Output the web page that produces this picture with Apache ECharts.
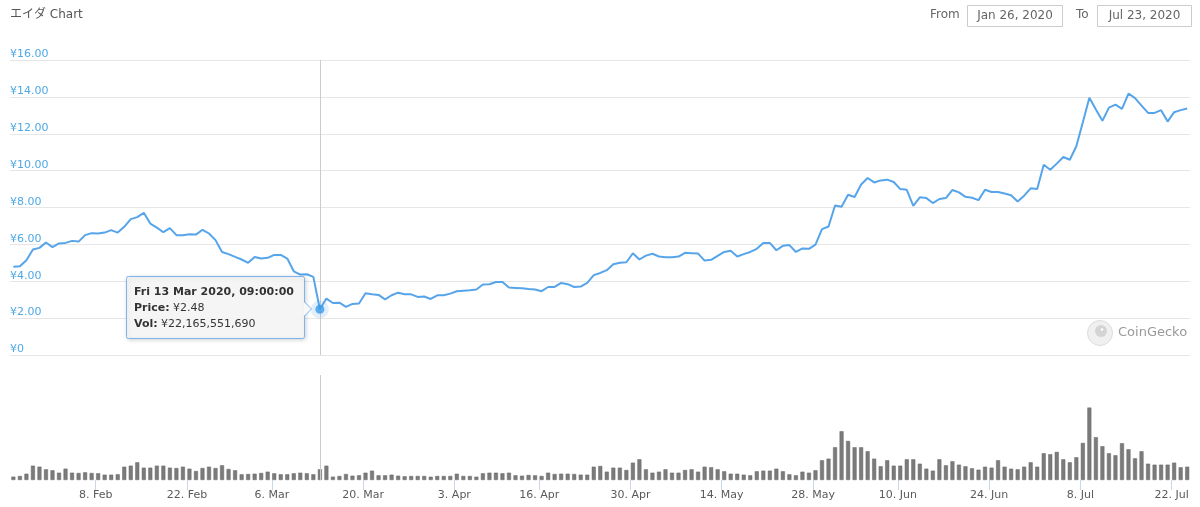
<!DOCTYPE html>
<html>
<head>
<meta charset="utf-8">
<script src="https://cdn.jsdelivr.net/npm/echarts@6/dist/echarts.min.js"></script>
<style>
html,body{margin:0;padding:0;background:#fff;}
#chart{width:1200px;height:507px;}
</style>
</head>
<body>
<div id="chart"></div>
<script>
// ---- data (daily, JST 09:00) ----
const startDate = '2020-01-26T09:00:00Z';
const prices = [
 4.78,4.81,5.14,5.72,5.81,6.10,5.85,6.05,6.08,6.19,
 6.15,6.50,6.61,6.59,6.64,6.77,6.64,6.95,7.37,7.48,
 7.71,7.13,6.91,6.66,6.88,6.50,6.50,6.55,6.53,6.79,
 6.59,6.23,5.59,5.47,5.32,5.18,5.00,5.32,5.23,5.27,
 5.43,5.43,5.23,4.54,4.36,4.38,4.24,2.48,3.06,2.82,
 2.84,2.61,2.77,2.79,3.35,3.29,3.26,3.02,3.24,3.38,
 3.29,3.29,3.15,3.17,3.04,3.24,3.24,3.33,3.46,3.49,
 3.51,3.55,3.82,3.84,3.96,3.96,3.66,3.64,3.62,3.58,
 3.55,3.46,3.69,3.69,3.91,3.84,3.69,3.71,3.91,4.33,
 4.45,4.60,4.92,5.00,5.03,5.52,5.18,5.39,5.49,5.34,
 5.30,5.30,5.34,5.54,5.52,5.50,5.12,5.16,5.38,5.59,
 5.65,5.34,5.47,5.59,5.76,6.07,6.08,5.68,5.92,5.96,
 5.59,5.78,5.76,5.99,6.83,6.97,8.11,8.04,8.69,8.57,
 9.25,9.60,9.36,9.47,9.51,9.38,9.00,8.96,8.09,8.55,
 8.51,8.24,8.46,8.51,8.95,8.82,8.58,8.53,8.40,8.96,
 8.84,8.84,8.76,8.66,8.33,8.64,9.04,9.00,10.32,10.05,
 10.38,10.74,10.59,11.32,12.62,13.95,13.31,12.70,13.42,13.58,
 13.35,14.18,13.93,13.53,13.13,13.13,13.28,12.66,13.17,13.28,
 13.37
];
// volume in billions of JPY
const volumes = [
 6.9,8.3,13.0,29.6,27.5,22.1,20.1,15.1,23.4,15.1,
 14.5,15.9,14.5,13.9,11.0,11.0,11.8,27.5,29.6,36.6,
 25.5,25.5,29.6,29.6,25.5,24.8,27.5,23.4,18.6,24.8,
 27.5,24.8,30.4,22.8,20.1,11.8,12.4,13.0,14.5,17.2,
 13.9,11.8,11.8,13.9,15.1,13.9,11.8,22.17,29.6,6.9,
 8.3,12.4,8.9,9.7,15.1,19.3,9.7,9.7,11.0,8.9,
 7.7,8.3,8.3,8.3,6.8,8.3,8.3,8.3,13.0,8.3,
 8.3,6.8,13.9,15.1,15.1,13.9,15.1,9.7,8.9,10.4,
 9.7,8.3,15.1,12.4,13.0,13.0,12.4,11.0,11.0,27.5,
 29.0,17.2,25.5,25.5,20.7,35.8,42.8,22.1,15.1,17.2,
 22.1,15.1,15.1,20.7,22.1,17.2,27.5,26.3,22.1,18.0,
 13.0,13.0,11.0,9.7,18.0,19.3,19.3,23.4,18.0,11.8,
 9.7,17.2,15.1,20.1,40.8,44.1,67.7,100.8,80.7,67.7,
 67.7,59.4,44.1,28.4,40.8,29.6,29.6,42.8,42.8,33.7,
 23.4,19.3,42.8,30.4,38.7,31.7,28.4,24.2,21.3,27.5,
 25.5,40.8,27.5,23.4,22.1,27.5,36.6,27.5,55.3,53.2,
 58.0,42.8,36.6,47.0,76.6,149.7,88.4,69.8,55.3,51.1,
 76.0,63.5,44.9,59.4,33.7,31.7,31.7,31.7,35.8,26.3,
 27.5
];
const tickDates = ['2020-02-08','2020-02-22','2020-03-06','2020-03-20','2020-04-03','2020-04-16',
 '2020-04-30','2020-05-14','2020-05-28','2020-06-10','2020-06-24','2020-07-08','2020-07-22'];
const priceTicks = [0,2,4,6,8,10,12,14,16];
const highlightIndex = 47;
const highlightVolume = 22165551690;
const titleText = 'エイダ Chart';
const fromText = 'Jan 26, 2020';
const toText = 'Jul 23, 2020';

// ---- build ----
const DAY = 86400000;
const t0 = Date.parse(startDate);
const dates = prices.map((_, i) => t0 + i * DAY);
const priceData = prices.map((p, i) => [dates[i], p]);
const volData = volumes.map((v, i) => [dates[i], v]);
const tickValues = tickDates.map(d => Date.parse(d + 'T00:00:00Z'));
const xMin = Date.parse('2020-01-25T20:35:00Z');
const xMax = Date.parse('2020-07-24T19:20:00Z');
const MON = ['Jan','Feb','Mar','Apr','May','Jun','Jul','Aug','Sep','Oct','Nov','Dec'];
const DOW = ['Sun','Mon','Tue','Wed','Thu','Fri','Sat'];
const pad = n => String(n).padStart(2, '0');
function fmtTip(t) {
  const d = new Date(t);
  return DOW[d.getUTCDay()] + ' ' + d.getUTCDate() + ' ' + MON[d.getUTCMonth()] + ' ' + d.getUTCFullYear() +
    ', ' + pad(d.getUTCHours()) + ':' + pad(d.getUTCMinutes()) + ':' + pad(d.getUTCSeconds());
}
const FONT = "'DejaVu Sans', sans-serif";
const lineColor = '#56a4ea';
const hT = dates[highlightIndex], hP = prices[highlightIndex];
const volStr = String(highlightVolume).replace(/\B(?=(\d{3})+(?!\d))/g, ',');

const chart = echarts.init(document.getElementById('chart'), null, {renderer: 'canvas'});
chart.setOption({
  animation: false,
  backgroundColor: '#fff',
  textStyle: {fontFamily: FONT},
  grid: [
    {left: 10, right: 10, top: 60, bottom: 152},
    {left: 10, right: 10, top: 375, bottom: 27}
  ],
  xAxis: [
    {type: 'value', gridIndex: 0, min: xMin, max: xMax, show: false, splitLine: {show: false}},
    {type: 'value', gridIndex: 1, min: xMin, max: xMax,
     axisLine: {show: false},
     splitLine: {show: false},
     axisTick: {show: true, customValues: tickValues, length: 10, lineStyle: {color: '#ccd6eb'}},
     axisLabel: {customValues: tickValues, margin: 10, color: '#5a5a5a', fontSize: 11, fontFamily: FONT,
       formatter: v => { const d = new Date(v); return d.getUTCDate() + '. ' + MON[d.getUTCMonth()]; }}
    }
  ],
  yAxis: [
    {type: 'value', gridIndex: 0, min: priceTicks[0], max: priceTicks[priceTicks.length - 1], interval: 2,
     axisLine: {show: false}, axisTick: {show: false},
     splitLine: {lineStyle: {color: '#e6e6e6', width: 1}},
     axisLabel: {inside: true, align: 'left', verticalAlign: 'bottom', margin: 0, padding: [0, 0, 0, 0],
       color: '#4fa8e6', fontSize: 11, fontFamily: FONT,
       formatter: v => v === 0 ? '¥0' : '¥' + v.toFixed(2)}
    },
    {type: 'value', gridIndex: 1, min: 0, max: 217, show: false, splitLine: {show: false}}
  ],
  series: [
    {type: 'line', xAxisIndex: 0, yAxisIndex: 0, data: priceData, showSymbol: false, symbol: 'none',
     lineStyle: {color: lineColor, width: 2}, z: 3,
     markLine: {silent: true, symbol: 'none', label: {show: false},
       lineStyle: {color: '#cccccc', width: 1, type: 'solid'}, data: [{xAxis: hT}], z: 1}
    },
    {type: 'bar', xAxisIndex: 1, yAxisIndex: 1, data: volData, barWidth: 4,
     itemStyle: {color: '#7b7b7b', borderColor: '#666', borderWidth: 0.5},
     markLine: {silent: true, symbol: 'none', label: {show: false},
       lineStyle: {color: '#cccccc', width: 1, type: 'solid'}, data: [{xAxis: hT}]}
    },
    {type: 'scatter', xAxisIndex: 0, yAxisIndex: 0, data: [[hT, hP]], symbolSize: 18, silent: true,
     itemStyle: {color: 'rgba(90,166,232,0.22)'}, z: 4},
    {type: 'scatter', xAxisIndex: 0, yAxisIndex: 0, data: [[hT, hP]], symbolSize: 9, silent: true,
     itemStyle: {color: '#3a9be8'}, z: 5}
  ],
  graphic: [
    {type: 'text', left: 10, top: 9, style: {text: titleText, fill: '#555', font: "12px 'DejaVu Sans', 'Noto Sans CJK JP', sans-serif"}},
    {type: 'text', left: 930, top: 9, style: {text: 'From', fill: '#666', font: '12px ' + FONT}},
    {type: 'rect', shape: {x: 967.5, y: 5.5, width: 95, height: 21}, style: {fill: '#fff', stroke: '#cccccc', lineWidth: 1}},
    {type: 'text', x: 1015, y: 16, style: {text: fromText, fill: '#666', font: '12px ' + FONT, align: 'center', verticalAlign: 'middle'}},
    {type: 'text', left: 1076, top: 9, style: {text: 'To', fill: '#666', font: '12px ' + FONT}},
    {type: 'rect', shape: {x: 1097.5, y: 5.5, width: 94, height: 21}, style: {fill: '#fff', stroke: '#cccccc', lineWidth: 1}},
    {type: 'text', x: 1144.5, y: 16, style: {text: toText, fill: '#666', font: '12px ' + FONT, align: 'center', verticalAlign: 'middle'}},
    // CoinGecko watermark
    {type: 'circle', shape: {cx: 1100, cy: 333, r: 12.5}, style: {fill: '#f0f0f0', stroke: '#dcdcdc', lineWidth: 1}, z: 10},
    {type: 'circle', shape: {cx: 1101, cy: 331, r: 6}, style: {fill: '#d4d4d4'}, z: 11},
    {type: 'circle', shape: {cx: 1102, cy: 329.5, r: 1.3}, style: {fill: '#ffffff'}, z: 12},
    {type: 'text', x: 1118, y: 333, style: {text: 'CoinGecko', fill: '#999', font: '13px ' + FONT, verticalAlign: 'middle'}, z: 10},
    // tooltip
    {type: 'rect', shape: {x: 126.5, y: 276.5, width: 178, height: 62, r: 2},
     style: {fill: 'rgba(248,248,248,0.9)', stroke: '#7cb5ec', lineWidth: 1,
       shadowBlur: 4, shadowColor: 'rgba(0,0,0,0.18)', shadowOffsetX: 1, shadowOffsetY: 1}, z: 20},
    {type: 'polygon', shape: {points: [[304, 302], [311.5, 309], [304, 316]]}, style: {fill: 'rgba(248,248,248,1)'}, z: 21},
    {type: 'polyline', shape: {points: [[304.5, 302], [311.5, 309], [304.5, 316]]}, style: {stroke: '#7cb5ec', lineWidth: 1, fill: null}, z: 21},
    {type: 'text', x: 134, y: 284, z: 22,
     style: {text: '{b|' + fmtTip(hT) + '}\n{b|Price:} {n|¥' + hP.toFixed(2) + '}\n{b|Vol:} {n|¥' + volStr + '}',
       rich: {
         b: {fontWeight: 'bold', fontSize: 11, fontFamily: FONT, lineHeight: 16, fill: '#333'},
         n: {fontSize: 11, fontFamily: FONT, lineHeight: 16, fill: '#333'}
       }}}
  ]
});
</script>
</body>
</html>
